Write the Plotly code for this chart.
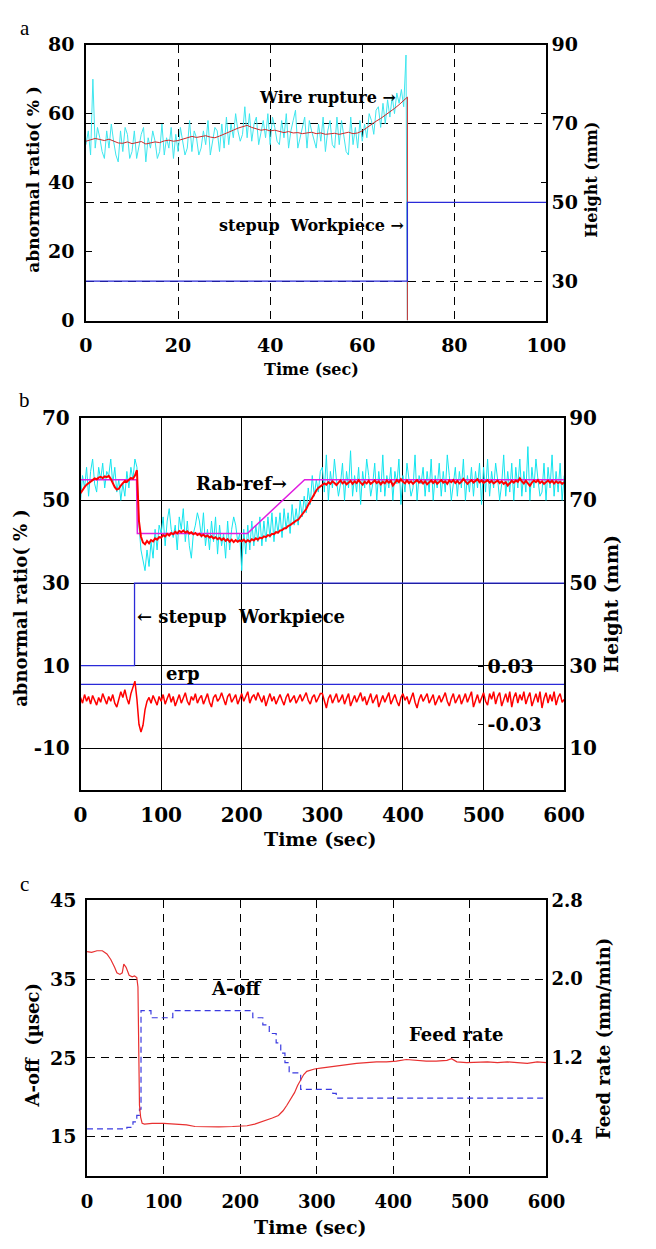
import numpy as np
import plotly.graph_objects as go

# ---------------- data ----------------
# (a) abnormal ratio before wire rupture, sampled every 0.5 s
rab_a_raw = [
    51, 55, 48, 70, 50, 56, 53, 49, 47, 55, 50, 57, 52, 48, 46, 55, 49, 56, 54, 47,
    49, 55, 47, 51, 54, 56, 46, 53, 50, 55, 52, 47, 49, 57, 48, 53, 50, 56, 47, 54,
    49, 56, 52, 48, 50, 58, 49, 55, 53, 48, 50, 55, 51, 58, 48, 52, 56, 55, 49, 57,
    50, 59, 51, 57, 53, 60, 55, 52, 54, 62, 53, 60, 52, 57, 59, 51, 55, 58, 53, 60,
    51, 59, 56, 52, 51, 58, 53, 60, 50, 55, 58, 61, 50, 53, 57, 59, 50, 58, 55, 52,
    50, 57, 52, 59, 49, 55, 58, 51, 50, 59, 51, 58, 53, 49, 48, 59, 51, 56, 50, 58,
    52, 57, 53, 60, 58, 54, 61, 62, 56, 63, 57, 64, 59, 65, 60, 66, 63, 67, 62, 77,
]
# (a) smoothed abnormal ratio, sampled every 1 s
rab_a_avg = [
    52.0, 52.5, 52.8, 52.5, 52.2, 52.6, 52.0, 51.5, 51.4, 51.8,
    51.3, 51.5, 51.9, 51.2, 51.4, 51.8, 51.6, 52.1, 52.3, 52.0,
    52.2, 52.6, 53.0, 53.4, 53.1, 53.3, 53.6, 53.2, 53.0, 53.5,
    54.0, 54.6, 55.2, 55.8, 56.3, 56.6, 56.0, 55.6, 55.2, 55.4,
    55.0, 55.2, 54.8, 54.5, 54.8, 54.4, 54.5, 54.2, 54.4, 54.6,
    54.2, 54.4, 54.0, 54.1, 54.3, 54.0, 54.2, 54.6, 54.2, 54.4,
    55.0, 56.0, 57.0, 57.8, 58.6, 59.5, 60.5, 61.5, 62.6, 63.8,
]
t_rupture = 69.8
rab_at_rupture = [64.8, 0]
height_a_t = [0, 69.8, 100]
height_a = [30, 50, 50]

# (b) abnormal ratio under control, sampled every 2.5 s
rab_b_raw = [
    50, 56, 53, 58, 51, 57, 60, 54, 52, 58, 55, 59, 53, 57, 56, 60, 54, 58, 52, 55,
    50, 54, 51, 57, 53, 58, 55, 60,
    58, 44, 38, 35, 33, 38, 34, 40, 36, 43, 38, 44,
    42, 46, 39, 45, 48, 43, 41, 44, 38, 46, 43, 48, 40, 45, 39, 36, 42, 44, 47, 45,
    41, 47, 39, 43, 38, 45, 40, 46, 37, 44, 39, 42, 36, 45, 38, 43, 46, 44, 40, 42,
    33, 43, 37, 44, 38, 45, 39, 44, 40, 46, 39, 45, 40, 46, 41, 47, 40, 46, 42, 47,
    41, 48, 43, 47, 42, 49, 44, 48, 44, 50, 46, 51, 47, 53, 49, 56, 51, 55, 52, 57,
    58, 52, 61, 50, 57, 53, 60, 55, 51, 54,
    59, 50, 57, 53, 62, 51, 56, 52, 58, 49,
    57, 53, 60, 56, 51, 54, 59, 50, 57, 52,
    61, 51, 56, 53, 58, 50, 57, 54, 60, 49,
    56, 52, 59, 55, 51, 53, 61, 50, 56, 54,
    58, 51, 57, 52, 60, 50, 56, 53, 59, 51,
    57, 52, 61, 56, 50, 54, 58, 51, 57, 53,
    60, 50, 56, 52, 58, 51, 57, 53, 59, 49,
    58, 52, 60, 51, 57, 53, 59, 55, 50, 54,
    61, 51, 57, 52, 59, 50, 58, 53, 60, 51,
    57, 52, 63, 50, 58, 53, 60, 55, 51, 52,
    59, 50, 58, 53, 61, 51, 57, 52, 59, 50,
    56,
]
rab_b_avg = [
    51.7, 52.6, 53.2, 53.8, 54.1, 54.6, 54.9, 55.3, 55.1, 55.5, 55.7, 55.4, 55.8, 55.6,
    55.9, 55.2, 54.0, 53.2, 52.6, 52.8, 53.6, 54.3, 54.7, 54.5, 55.0, 55.4, 55.2, 56.0,
    57.3, 45.0, 41.2, 39.8, 39.4, 40.2, 39.6, 40.4, 40.1, 40.8, 40.5, 41.1,
    41.0, 41.6, 41.3, 41.9, 41.5, 42.1, 41.8, 42.4, 42.0, 42.6, 42.3, 42.7, 42.2, 42.5,
    42.0, 42.3, 41.8, 42.1, 41.6, 41.9, 41.4, 41.7, 41.2, 41.5, 41.0, 41.3, 40.8, 41.1,
    40.6, 40.9, 40.4, 40.8, 40.2, 40.6, 40.0, 40.5, 39.9, 40.4, 40.0, 40.3,
    40.1, 40.5, 39.9, 40.4, 40.0, 40.6, 40.3, 40.8, 40.5, 41.0, 40.8, 41.3, 41.1, 41.6,
    41.4, 41.9, 41.8, 42.3, 42.2, 42.7, 42.8, 43.2, 43.3, 43.8, 44.0, 44.4, 44.6, 45.1,
    45.3, 46.0, 46.4, 47.3, 47.9, 48.9, 49.8, 50.8, 51.6, 52.4, 53.0, 53.4,
    53.6, 54.1, 53.8, 54.4, 54.0, 54.6, 54.2, 53.7, 54.3, 54.8,
    54.1, 54.5, 53.9, 54.4, 54.7, 54.0, 54.6, 54.2, 54.9, 54.3,
    53.8, 54.5, 54.1, 54.7, 54.0, 54.4, 54.8, 54.2, 54.6, 53.9,
    54.5, 54.1, 54.8, 54.3, 54.7, 53.6, 54.2, 54.9, 54.4, 55.1,
    54.5, 54.1, 54.8, 54.2, 54.6, 54.0, 54.5, 54.9, 54.3, 54.7,
    54.1, 54.6, 53.9, 54.4, 54.8, 54.2, 54.7, 54.0, 54.5, 54.9,
    54.3, 54.6, 54.0, 54.8, 54.4, 54.9, 54.2, 54.7, 54.1, 54.5,
    55.2, 54.6, 54.0, 54.5, 54.9, 54.3, 54.7, 55.1, 54.4, 54.8,
    54.2, 54.6, 54.9, 54.3, 54.7, 54.1, 54.5, 54.8, 54.2, 54.6,
    54.0, 54.4, 53.6, 54.2, 54.7, 54.3, 54.8, 54.5, 55.3, 54.6,
    54.1, 54.7, 54.2, 53.5, 54.3, 54.8, 54.4, 54.9, 54.2, 54.6,
    54.0, 54.5, 54.8, 54.3, 54.7, 54.1, 54.6, 54.2, 54.5, 54.0,
    54.4,
]
rab_ref_t = [0, 69.5, 70.5, 207, 278, 600]
rab_ref = [55, 55, 42, 42, 55, 55]
height_b_t = [0, 67, 600]
height_b = [30, 50, 50]
# (b) error erp, sampled every 2.5 s
erp = [
    -0.002, -0.008, 0.001, -0.006, -0.001, -0.009, 0.000, -0.005, -0.010, -0.002,
    -0.007, 0.002, -0.004, -0.009, -0.001, -0.006, 0.001, -0.008, -0.012, -0.004,
    0.004, -0.002, 0.006, -0.003, -0.009, 0.002, 0.009, 0.015,
    -0.004, -0.030, -0.038, -0.031, -0.015, -0.006, -0.002, -0.008, 0.000, -0.005,
    -0.010, -0.001,
    -0.006, 0.001, -0.009, -0.003, 0.002, -0.007, -0.001, -0.011, -0.004, 0.001,
    -0.008, -0.002, 0.003, -0.006, -0.010, -0.001, -0.005, 0.002, -0.008, -0.003,
    0.000, -0.009, -0.004, 0.002, -0.007, -0.012, -0.002, 0.001, -0.006, -0.003,
    0.003, -0.005, -0.010, -0.001, 0.002, -0.007, -0.003, 0.001, -0.009, -0.004,
    0.002, -0.006, -0.001, 0.004, -0.008, -0.002, 0.001, -0.005, 0.003, -0.003,
    -0.007, 0.000, -0.011, -0.004, 0.002, -0.006, -0.001, -0.009, -0.003, 0.001,
    -0.005, -0.010, -0.002, 0.002, -0.007, -0.003, 0.000, -0.008, -0.004, 0.001,
    -0.006, -0.001, 0.003, -0.005, -0.009, -0.002, 0.001, -0.007, -0.003, 0.002,
    0.002, -0.006, -0.013, -0.003, 0.001, -0.008, -0.002, 0.002, -0.007, -0.004,
    0.001, -0.009, -0.003, 0.002, -0.011, -0.005, 0.000, -0.007, -0.002, 0.003,
    -0.006, -0.001, -0.010, -0.004, 0.002, -0.008, -0.003, 0.001, -0.012, -0.005,
    0.000, -0.007, -0.002, 0.003, -0.009, -0.004, 0.001, -0.006, -0.011, -0.002,
    0.002, -0.005, -0.001, -0.009, -0.003, 0.003, -0.007, -0.013, -0.004, 0.001,
    -0.006, -0.002, 0.002, -0.008, -0.003, 0.001, -0.010, -0.005, 0.000, -0.007,
    -0.002, 0.003, -0.006, -0.011, -0.003, 0.002, -0.008, -0.004, 0.001, -0.009,
    -0.003, 0.002, -0.007, -0.001, 0.004, -0.012, -0.005, 0.001, -0.008, -0.002,
    0.003, -0.006, -0.010, 0.002, -0.004, 0.004, -0.009, -0.001, 0.003, -0.011,
    -0.003, 0.002, -0.007, 0.004, -0.012, -0.002, 0.003, -0.008, 0.001, -0.005,
    0.004, -0.009, -0.002, 0.003, -0.011, -0.004, 0.002, -0.007, 0.004, -0.013,
    -0.003, 0.003, -0.008, 0.001, -0.006, 0.004, -0.010, -0.002, 0.002, -0.007,
    -0.004,
]
erp_limit_t = [0, 600]
erp_limit = [0.0117, 0.0117]

# (c) feed rate (mm/min) and A-off (usec)
feed_t = [0, 6, 13, 20, 26, 31, 36, 39, 43, 46, 48, 51, 55, 59, 62, 65, 66.5, 67.5,
          68.5, 70, 72, 75, 85, 100, 115, 130, 141, 155, 172, 190, 209, 219, 228,
          235, 242, 250, 256, 261, 266, 271, 275, 279, 283, 287, 292, 297, 305, 313,
          326, 339, 352, 365, 378, 391, 404, 417, 430, 443, 456, 470, 476, 483, 496,
          510, 523, 536, 549, 562, 575, 588, 600]
feed = [2.28, 2.272, 2.288, 2.288, 2.256, 2.20, 2.12, 2.064, 2.048, 2.064, 2.152,
        2.12, 2.04, 2.024, 2.032, 2.016, 1.92, 1.44, 0.72, 0.60, 0.536, 0.528, 0.536,
        0.536, 0.528, 0.52, 0.504, 0.50, 0.50, 0.504, 0.512, 0.528, 0.552, 0.568,
        0.59, 0.616, 0.664, 0.72, 0.784, 0.848, 0.92, 0.984, 1.032, 1.064, 1.08,
        1.088, 1.096, 1.104, 1.12, 1.136, 1.144, 1.152, 1.16, 1.16, 1.168, 1.184,
        1.176, 1.168, 1.168, 1.176, 1.192, 1.16, 1.152, 1.16, 1.16, 1.152, 1.16,
        1.152, 1.144, 1.16, 1.152]
aoff_t = [0, 52, 60, 65, 68.5, 70.5, 83.5, 112, 216.5, 229.6, 238, 247, 253, 258.5,
          264, 279, 321, 325.5, 600]
aoff = [16.0, 16.2, 16.9, 17.7, 18.5, 31.0, 30.1, 31.0, 30.1, 29.2, 28.1, 26.9, 25.6,
        24.4, 23.1, 21.0, 20.5, 19.9, 19.9]

# tick labels
ticks_a_x = [0, 20, 40, 60, 80, 100]
ticks_a_y = [0, 20, 40, 60, 80]
ticks_a_h = [30, 50, 70, 90]
ticks_b_x = [0, 100, 200, 300, 400, 500, 600]
ticks_b_y = [-10, 10, 30, 50, 70]
ticks_b_h = [10, 30, 50, 70, 90]
ticks_b_erp = [-0.03, 0.03]
ticks_c_x = [0, 100, 200, 300, 400, 500, 600]
ticks_c_y = [15, 25, 35, 45]
ticks_c_f = [0.4, 1.2, 2.0, 2.8]

# ---------------- styling helpers ----------------
W, H = 656, 1249
FONT = "DejaVu Serif"
LETTER_FONT = "Liberation Serif, serif"


def px(x):
    return x / W


def py(y):
    return 1 - y / H


def tfont(size):
    return dict(family=FONT, size=size, color="black", weight="bold")


def frame(size=19, **kw):
    d = dict(showline=True, mirror=True, linecolor="black", linewidth=1.5,
             zeroline=False, showgrid=False, ticks="", color="black",
             tickfont=tfont(size))
    d.update(kw)
    return d


CYAN = "#14e4ee"
RED = "#ff0000"
BLUE = "#2a2ad8"
MAGENTA = "#e01ee0"

fig = go.Figure()

# ---------- panel a ----------
fig.add_trace(go.Scatter(x=height_a_t, y=height_a, mode="lines", line_shape="hv",
                         line=dict(color=BLUE, width=1.3), xaxis="x", yaxis="y2"))
t_a_raw = list(0.5 * np.arange(len(rab_a_raw))) + [t_rupture]
fig.add_trace(go.Scatter(x=t_a_raw, y=rab_a_raw + [0], mode="lines",
                         line=dict(color="#3ee6ee", width=1), xaxis="x", yaxis="y"))
t_a_avg = list(np.arange(len(rab_a_avg))) + [t_rupture, t_rupture]
fig.add_trace(go.Scatter(x=t_a_avg, y=rab_a_avg + rab_at_rupture, mode="lines",
                         line=dict(color="#cc2a2a", width=1), xaxis="x", yaxis="y"))

# ---------- panel b ----------
t_b = 2.5 * np.arange(len(rab_b_raw))
fig.add_trace(go.Scatter(x=t_b, y=rab_b_raw, mode="lines",
                         line=dict(color=CYAN, width=1), xaxis="x2", yaxis="y3"))
fig.add_trace(go.Scatter(x=rab_ref_t, y=rab_ref, mode="lines",
                         line=dict(color=MAGENTA, width=1.5), xaxis="x2", yaxis="y3"))
fig.add_trace(go.Scatter(x=2.5 * np.arange(len(rab_b_avg)), y=rab_b_avg, mode="lines",
                         line=dict(color=RED, width=2), xaxis="x2", yaxis="y3"))
fig.add_trace(go.Scatter(x=height_b_t, y=height_b, mode="lines", line_shape="hv",
                         line=dict(color=BLUE, width=1.3), xaxis="x2", yaxis="y4"))
fig.add_trace(go.Scatter(x=erp_limit_t, y=erp_limit, mode="lines",
                         line=dict(color=BLUE, width=1.3), xaxis="x2", yaxis="y5"))
fig.add_trace(go.Scatter(x=2.5 * np.arange(len(erp)), y=erp, mode="lines",
                         line=dict(color=RED, width=1.5), xaxis="x2", yaxis="y5"))

# ---------- panel c ----------
fig.add_trace(go.Scatter(x=aoff_t, y=aoff, mode="lines", line_shape="hv",
                         line=dict(color="#3a3ae0", width=1.2, dash="6px,4px"),
                         xaxis="x3", yaxis="y6"))
fig.add_trace(go.Scatter(x=feed_t, y=feed, mode="lines",
                         line=dict(color="#e83030", width=1.2), xaxis="x3", yaxis="y7"))

dash_grid = dict(showgrid=True, gridcolor="black", gridwidth=1.2, griddash="8px,6px")
solid_grid = dict(showgrid=True, gridcolor="black", gridwidth=1.3)


def labels(vals, fmt="{:g}"):
    # plain hyphen-minus for negative numbers
    return [fmt.format(v).replace("\u2212", "-") for v in vals]


fig.update_layout(
    width=W, height=H, autosize=False, showlegend=False,
    margin=dict(l=0, r=0, t=0, b=0),
    paper_bgcolor="white", plot_bgcolor="white",
    font=dict(family=FONT, color="black"),
    # panel a
    xaxis=frame(domain=[px(82.5), px(563.5)], anchor="y", range=[0, 100],
                tickvals=ticks_a_x, ticklabelstandoff=7, **dash_grid),
    yaxis=frame(domain=[py(314.3), py(33.3)], anchor="x", range=[0, 80],
                tickvals=ticks_a_y, ticks="inside", ticklen=6,
                mirror="ticks", ticklabelstandoff=6),
    yaxis2=frame(overlaying="y", side="right", anchor="x", range=[20, 90],
                 tickvals=ticks_a_h, showline=False, ticklabelstandoff=4,
                 **dash_grid),
    # panel b
    xaxis2=frame(size=20, domain=[px(76.8), px(582)], anchor="y3", range=[0, 600],
                 tickvals=ticks_b_x, ticklabelstandoff=7, **solid_grid),
    yaxis3=frame(size=20, domain=[py(792.3), py(413.3)], anchor="x2", range=[-20, 70],
                 tickvals=ticks_b_y, ticktext=labels(ticks_b_y),
                 ticklabelstandoff=5, **solid_grid),
    yaxis4=frame(size=20, overlaying="y3", side="right", anchor="x2", range=[0, 90],
                 tickvals=ticks_b_h, showline=False, ticklabelstandoff=4),
    yaxis5=frame(overlaying="y3", side="right", anchor="free",
                 position=px(76.8 + 500 / 600 * (582 - 76.8)),
                 range=[-0.0983, 0.29], tickvals=ticks_b_erp,
                 ticktext=labels(ticks_b_erp, "{:.2f}"), ticks="inside", ticklen=6,
                 showline=False, ticklabelstandoff=3),
    # panel c
    xaxis3=frame(size=18, domain=[px(83.6), px(563.5)], anchor="y6", range=[0, 600],
                 tickvals=ticks_c_x, ticklabelstandoff=8, **dash_grid),
    yaxis6=frame(domain=[py(1186), py(905)], anchor="x3", range=[10, 45],
                 tickvals=ticks_c_y, ticklabelstandoff=5, **dash_grid),
    yaxis7=frame(size=18, overlaying="y6", side="right", anchor="x3", range=[0, 2.8],
                 tickvals=ticks_c_f, tickformat=".1f", showline=False,
                 ticklabelstandoff=4),
)


def note(text, x, y, xref, yref, xanchor="center", size=18, angle=0,
         weight="bold", family=FONT):
    fig.add_annotation(text=text, x=x, y=y, xref=xref, yref=yref, showarrow=False,
                       xanchor=xanchor, yanchor="middle", textangle=angle,
                       font=dict(family=family, size=size, color="black",
                                 weight=weight))


# in-plot labels
note("Wire rupture →", 67.7, 64.6, "x", "y", xanchor="right", size=16)
note("stepup  Workpiece →", 69.5, 27.7, "x", "y", xanchor="right", size=16)
note("Rab-ref→", 258.7, 54.1, "x2", "y3", xanchor="right", size=18)
note("← stepup  Workpiece", 68, 22, "x2", "y3", xanchor="left", size=18)
note("erp", 127, 8.2, "x2", "y3", size=18)
note("A-off", 195, 33.8, "x3", "y6", size=18)
note("Feed rate", 482, 28.0, "x3", "y6", size=18)

# axis titles
note("abnormal ratio( % )", px(27), py(170), "paper", "paper", size=17, angle=-90)
note("Height (mm)", px(611), py(171), "paper", "paper", size=16, angle=-90)
note("Time (sec)", px(318), py(364), "paper", "paper", size=16)
note("abnormal ratio( % )", px(14.6), py(607), "paper", "paper", size=18, angle=-90)
note("Height (mm)", px(631), py(603), "paper", "paper", size=19, angle=-90)
note("Time (sec)", px(327.6), py(843), "paper", "paper", size=19)
note("A-off  (µsec)", px(27), py(1052), "paper", "paper", size=18, angle=-90)
note("Feed rate (mm/min)", px(623), py(1046), "paper", "paper", size=18, angle=-90)
note("Time (sec)", px(317), py(1238), "paper", "paper", size=19)

# panel letters
note("a", px(18.8), py(16.7), "paper", "paper", size=21, weight="normal",
     family=LETTER_FONT)
note("b", px(18.8), py(395), "paper", "paper", size=21, weight="normal",
     family=LETTER_FONT)
note("c", px(18.8), py(888), "paper", "paper", size=21, weight="normal",
     family=LETTER_FONT)

fig.write_html("out.html")
